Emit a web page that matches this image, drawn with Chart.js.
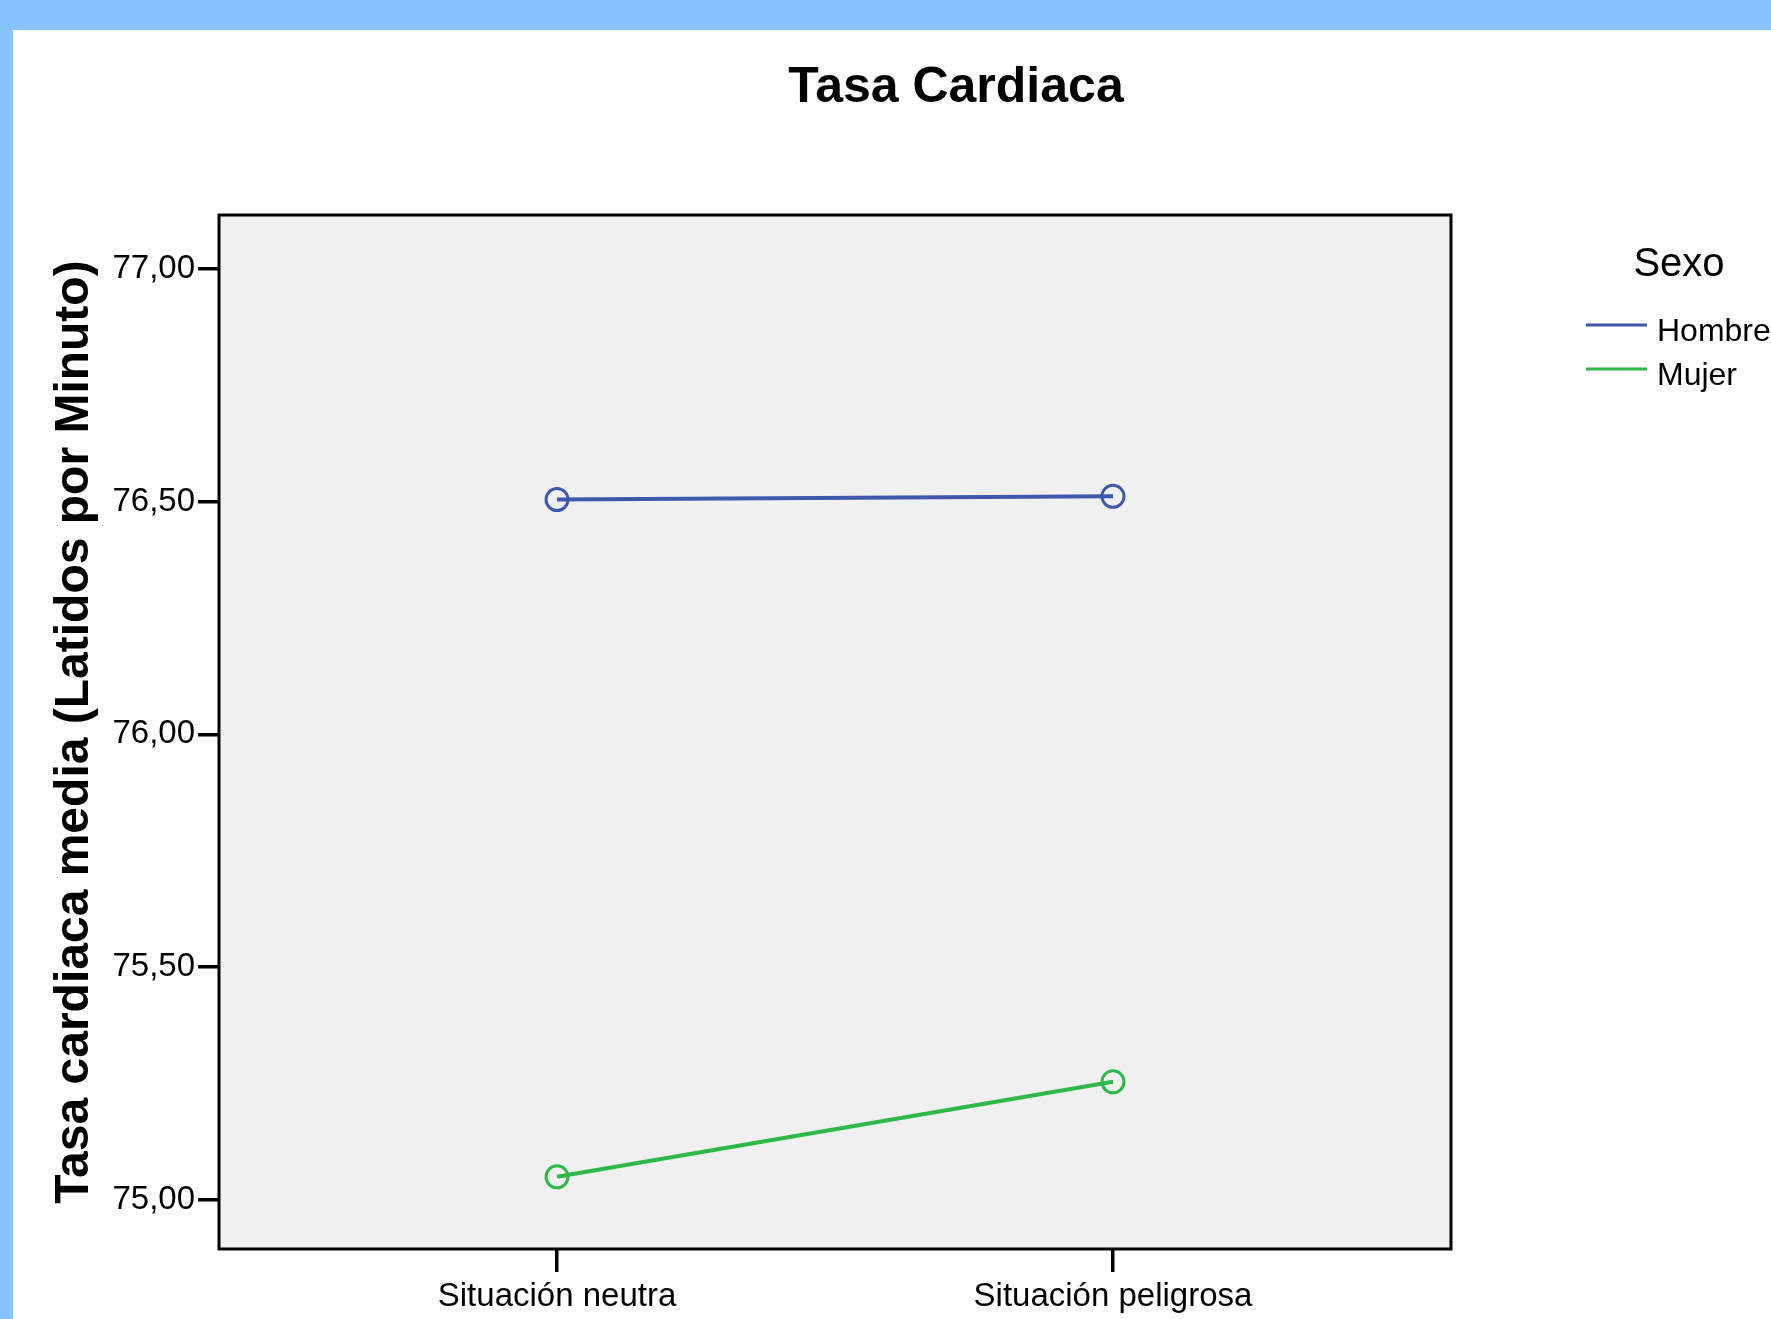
<!DOCTYPE html>
<html>
<head>
<meta charset="utf-8">
<script src="https://cdn.jsdelivr.net/npm/chart.js@4.4.1/dist/chart.umd.min.js"></script>
<style>
  html, body { margin: 0; padding: 0; background: #ffffff; }
  #wrap { position: relative; width: 1771px; height: 1319px; overflow: hidden; background: #ffffff; }
  #bandTop { position: absolute; left: 0; top: 0; width: 1771px; height: 30px; background: #88c2ff; }
  #bandLeft { position: absolute; left: 0; top: 0; width: 13px; height: 1319px; background: #88c2ff; }
  #chartBox { position: absolute; left: 0; top: 0; width: 1771px; height: 1319px; }
</style>
</head>
<body>
<div id="wrap">
  <div id="bandTop"></div>
  <div id="bandLeft"></div>
  <div id="chartBox"><canvas id="tasaChart"></canvas></div>
</div>
<script>
const categories = ['Situación neutra', 'Situación peligrosa'];
const hombre = [76.504, 76.511];
const mujer = [75.05, 75.254];
const yTicks = [75.0, 75.5, 76.0, 76.5, 77.0];

const FONT = "'Liberation Sans', Arial, sans-serif";
const ctxEl = document.getElementById('tasaChart');

// plot background + black frame, then title and legend text
const framePlugin = {
  id: 'frame',
  beforeDatasetsDraw(chart) {
    const { ctx, chartArea: a } = chart;
    ctx.save();
    ctx.fillStyle = '#f0f0f0';
    ctx.fillRect(a.left, a.top, a.right - a.left, a.bottom - a.top);
    ctx.strokeStyle = '#000';
    ctx.lineWidth = 3;
    ctx.strokeRect(a.left, a.top, a.right - a.left, a.bottom - a.top);
    ctx.restore();
  },
  afterDraw(chart) {
    const ctx = chart.ctx;
    ctx.save();
    ctx.fillStyle = '#000';
    ctx.textBaseline = 'alphabetic';
    ctx.textAlign = 'center';
    ctx.font = "bold 50px " + FONT;
    ctx.fillText('Tasa Cardiaca', 956, 102);

    ctx.font = "40px " + FONT;
    ctx.fillText('Sexo', 1679, 276);

    ctx.textAlign = 'left';
    ctx.font = "32px " + FONT;
    const rows = [325, 369];
    chart.data.datasets.forEach((ds, i) => {
      ctx.strokeStyle = ds.borderColor;
      ctx.lineWidth = 3;
      ctx.beginPath();
      ctx.moveTo(1586, rows[i]);
      ctx.lineTo(1647, rows[i]);
      ctx.stroke();
      ctx.fillStyle = '#000';
      ctx.fillText(ds.label, 1657, rows[i] + 16);
    });
    ctx.restore();
  }
};

new Chart(ctxEl, {
  type: 'line',
  data: {
    datasets: [{
      label: 'Hombre',
      data: hombre.map((v, i) => ({ x: i, y: v })),
      borderColor: '#3e58ac',
      borderWidth: 4,
      pointRadius: 11,
      pointBorderWidth: 3,
      pointBackgroundColor: 'rgba(0,0,0,0)',
      pointBorderColor: '#3e58ac',
      fill: false,
    }, {
      label: 'Mujer',
      data: mujer.map((v, i) => ({ x: i, y: v })),
      borderColor: '#2eb848',
      borderWidth: 4,
      pointRadius: 11,
      pointBorderWidth: 3,
      pointBackgroundColor: 'rgba(0,0,0,0)',
      pointBorderColor: '#2eb848',
      fill: false,
    }]
  },
  options: {
    responsive: true,
    maintainAspectRatio: false,
    animation: false,
    layout: { padding: { left: 0, top: 215, right: 320, bottom: 0 } },
    plugins: {
      legend: { display: false },
      title: { display: false },
      tooltip: { enabled: false }
    },
    scales: {
      x: {
        type: 'linear',
        min: -0.608,
        max: 1.608,
        afterBuildTicks: (axis) => { axis.ticks = categories.map((c, i) => ({ value: i })); },
        afterFit: (axis) => { axis.height = 70; },
        border: { display: false },
        grid: { drawOnChartArea: false, drawTicks: true, tickLength: 23, color: '#000', lineWidth: 3.5 },
        ticks: {
          padding: 5,
          color: '#000',
          font: { family: FONT, size: 33 },
          callback: (v) => categories[v]
        }
      },
      y: {
        min: 74.895,
        max: 77.115,
        afterBuildTicks: (axis) => { axis.ticks = yTicks.map(v => ({ value: v })); },
        afterFit: (axis) => { axis.width = 219; },
        border: { display: false },
        grid: { drawOnChartArea: false, drawTicks: true, tickLength: 21, color: '#000', lineWidth: 3.5 },
        ticks: {
          padding: 3,
          color: '#000',
          font: { family: FONT, size: 33 },
          callback: (v) => v.toFixed(2).replace('.', ',')
        },
        title: {
          display: true,
          text: 'Tasa cardiaca media (Latidos por Minuto)',
          color: '#000',
          font: { family: FONT, size: 48, weight: 'bold', lineHeight: 1 },
          padding: { top: 51, bottom: 0 }
        }
      }
    }
  },
  plugins: [framePlugin]
});
</script>
</body>
</html>
